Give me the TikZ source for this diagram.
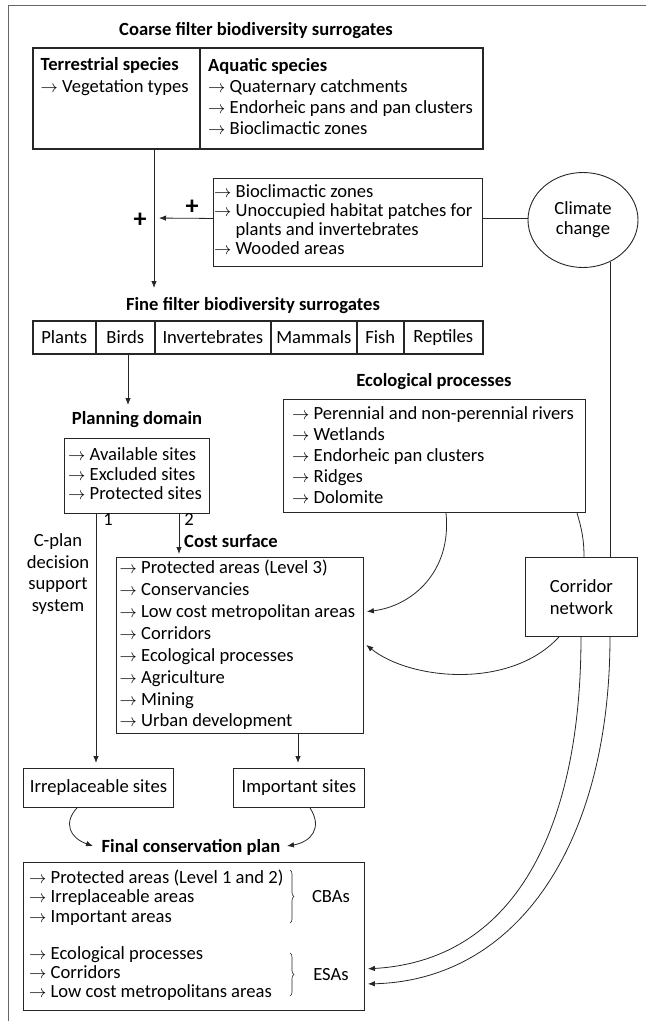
\documentclass[tikz,border=0pt]{standalone}
\usepackage{fontspec}
\setmainfont{Carlito}
\usetikzlibrary{arrows.meta,shapes.geometric,decorations.pathreplacing,calc}
\newcommand{\myarr}{$\rightarrow$\ }
\newcommand{\myind}{\hphantom{$\rightarrow$\ }}
\newcommand{\fs}[1]{\fontsize{18.6pt}{#1}\selectfont}
\tikzset{
  box/.style={draw=black!85, line width=0.9pt, inner sep=0pt, anchor=north west},
  thickbox/.style={box, line width=1.6pt},
  lst/.style={inner sep=0pt, align=left, anchor=west, text=black},
  ttl/.style={inner sep=0pt, font=\bfseries\fs{22pt}, text=black},
  lbl/.style={inner sep=0pt, align=center, text=black},
  conn/.style={draw=black!85, line width=0.8pt},
  arr/.style={conn, -{Latex[length=7pt,width=5.5pt]}},
  brc/.style={draw=black!85, line width=0.6pt, decorate, decoration={brace, amplitude=4pt}},
}
\begin{document}
\begin{tikzpicture}[x=1pt, y=-1pt, font=\fs{22pt}]
\useasboundingbox (0,0) rectangle (646,1021);
% frame
\draw[black!60, line width=0.8pt] (646,5) -- (8,5) -- (8,1021);

% coarse filter
\node[ttl] (coarsettl) at (256,31) {Coarse filter biodiversity surrogates};
\node[thickbox, minimum width=167pt, minimum height=101pt] (terr) at (32,47) {};
\node[thickbox, minimum width=283pt, minimum height=101pt] (aqua) at (199,47) {};
\node[lst, anchor=north west] (terrtxt) at (40.5,57) {\textbf{Terrestrial species}\\\myarr Vegetation types};
\node[lst, font=\fs{21pt}] (aquatxt) at (208,97) {\textbf{Aquatic species}\\\myarr Quaternary catchments\\\myarr Endorheic pans and pan clusters\\\myarr Bioclimactic zones};

% bioclimactic box
\node[box, minimum width=269pt, minimum height=88pt] (bio) at (213,178) {};
\node[lst, font=\fs{19pt}] (biotxt) at (214,219.5) {\myarr Bioclimactic zones\\\myarr Unoccupied habitat patches for\\\myind plants and invertebrates\\\myarr Wooded areas};
\node[draw=black!85, line width=0.9pt, ellipse, minimum width=110pt, minimum height=95pt, inner sep=0pt, align=center, font=\fs{20pt}, text=black] (climate) at (583,220) {Climate\\change};
\node[inner sep=0pt, font=\bfseries\fontsize{26pt}{26pt}\selectfont] (plusA) at (192,207) {+};
\node[inner sep=0pt, font=\bfseries\fontsize{26pt}{26pt}\selectfont] (plusB) at (140,220) {+};

% fine filter
\node[ttl] (finettl) at (253,306) {Fine filter biodiversity surrogates};
\node[thickbox, minimum width=63pt, minimum height=33pt] (plants) at (32,320) {};
\node[thickbox, minimum width=59pt, minimum height=33pt] (birds) at (95,320) {};
\node[thickbox, minimum width=116pt, minimum height=33pt] (inv) at (154,320) {};
\node[thickbox, minimum width=86pt, minimum height=33pt] (mam) at (270,320) {};
\node[thickbox, minimum width=47pt, minimum height=33pt] (fish) at (356,320) {};
\node[thickbox, minimum width=79pt, minimum height=33pt] (rep) at (403,320) {};
\node[lbl] (plantst) at (plants.center) {Plants};
\node[lbl] (birdst) at (birds.center) {Birds};
\node[lbl] (invt) at (inv.center) {Invertebrates};
\node[lbl] (mamt) at (mam.center) {Mammals};
\node[lbl] (fisht) at (fish.center) {Fish};
\node[lbl] (rept) at (rep.center) {Reptiles};

% planning domain
\node[ttl] (planttl) at (137,420) {Planning domain};
\node[box, minimum width=145pt, minimum height=75pt] (plan) at (64,438) {};
\node[lst, font=\fs{19.5pt}] (plantxt) at (68,474) {\myarr Available sites\\\myarr Excluded sites\\\myarr Protected sites};

% ecological processes
\node[ttl] (ecottl) at (434,382) {Ecological processes};
\node[box, minimum width=302pt, minimum height=113pt] (eco) at (283,399) {};
\node[lst, font=\fs{21pt}] (ecotxt) at (292,455) {\myarr Perennial and non-perennial rivers\\\myarr Wetlands\\\myarr Endorheic pan clusters\\\myarr Ridges\\\myarr Dolomite};

% cost surface
\node[ttl, anchor=west] (costttl) at (184,541) {Cost surface};
\node[box, minimum width=247pt, minimum height=176pt] (cost) at (116,557) {};
\node[lst, font=\fs{21.9pt}] (costtxt) at (119.5,645) {\myarr Protected areas (Level 3)\\\myarr Conservancies\\\myarr Low cost metropolitan areas\\\myarr Corridors\\\myarr Ecological processes\\\myarr Agriculture\\\myarr Mining\\\myarr Urban development};
\node[lbl, font=\fs{21.7pt}] (cplan) at (58,574) {C-plan\\decision\\support\\system};
\node[lbl] (one) at (108,520) {1};
\node[lbl] (two) at (189,519) {2};

% corridor network
\node[box, minimum width=112pt, minimum height=79pt] (corr) at (525,557) {};
\node[lbl] (corrt) at (corr.center) {Corridor\\network};

% sites
\node[box, minimum width=150pt, minimum height=39pt] (irr) at (23,768) {};
\node[lbl] (irrt) at (irr.center) {Irreplaceable sites};
\node[box, minimum width=131pt, minimum height=39pt] (imp) at (233,768) {};
\node[lbl] (impt) at (imp.center) {Important sites};

% final plan
\node[ttl] (finalttl) at (191,847) {Final conservation plan};
\node[box, minimum width=341pt, minimum height=148pt] (final) at (23,862) {};
\node[lst, font=\fs{19.5pt}] (cbatxt) at (29,897.5) {\myarr Protected areas (Level 1 and 2)\\\myarr Irreplaceable areas\\\myarr Important areas};
\node[lst, font=\fs{19pt}] (esatxt) at (29,974) {\myarr Ecological processes\\\myarr Corridors\\\myarr Low cost metropolitans areas};
\node[lbl] (cbal) at (331,897) {CBAs};
\node[lbl] (esal) at (331,975) {ESAs};
\coordinate (cbaA) at (290,870);
\coordinate (cbaB) at (290,923);
\coordinate (esaA) at (290,953);
\coordinate (esaB) at (290,996);
\draw[brc] (cbaA) -- (cbaB);
\draw[brc] (esaA) -- (esaB);

% connectors
\coordinate (fineIn) at (154,288);
\draw[arr] (154,0 |- terr.south) -- (fineIn);
\coordinate (bioL) at ($(bio.west)+(0,-4)$);
\coordinate (bioR) at ($(bio.east)+(0,-4)$);
\coordinate (joinpt) at (154,218);
\draw[arr, shorten >=5pt] (bioL) -- (joinpt);
\draw[conn] (bioR) -- (bioR -| climate.west);
\draw[conn] (climate.-57) -- (climate.-57 |- corr.north);
\coordinate (planIn) at (128,405);
\draw[arr] (128,0 |- birds.south) -- (planIn);
\draw[arr, shorten >=5pt] (96,0 |- plan.south) -- (96,0 |- irr.north);
\draw[arr, shorten >=3pt] (179,0 |- plan.south) -- (179,0 |- cost.north);
\draw[arr, shorten >=5pt] (298,0 |- cost.south) -- (298,0 |- imp.north);
\draw[arr, shorten >=3pt] (446,0 |- eco.south) .. controls (452,572) and (412,606) .. (cost.east |- 0,612);
\draw[conn] (577,0 |- eco.south) .. controls (582,530) and (584,540) .. (584,0 |- corr.north);
\draw[arr, shorten >=3pt] (559,0 |- corr.south) .. controls (510,690) and (410,680) .. (cost.east |- 0,643);
\draw[arr, shorten >=3pt] (581,0 |- corr.south) .. controls (581,820) and (520,960) .. (final.east |- 0,969);
\draw[arr, shorten >=3pt] (610,0 |- corr.south) .. controls (610,840) and (520,980) .. (final.east |- 0,984);
\coordinate (ftl) at (93,846);
\coordinate (ftr) at (287,846);
\draw[arr] (77,0 |- irr.south) .. controls (63,823) and (70,838) .. (ftl);
\draw[arr] (310,0 |- imp.south) .. controls (323,828) and (311,842) .. (ftr);
\end{tikzpicture}
\end{document}
